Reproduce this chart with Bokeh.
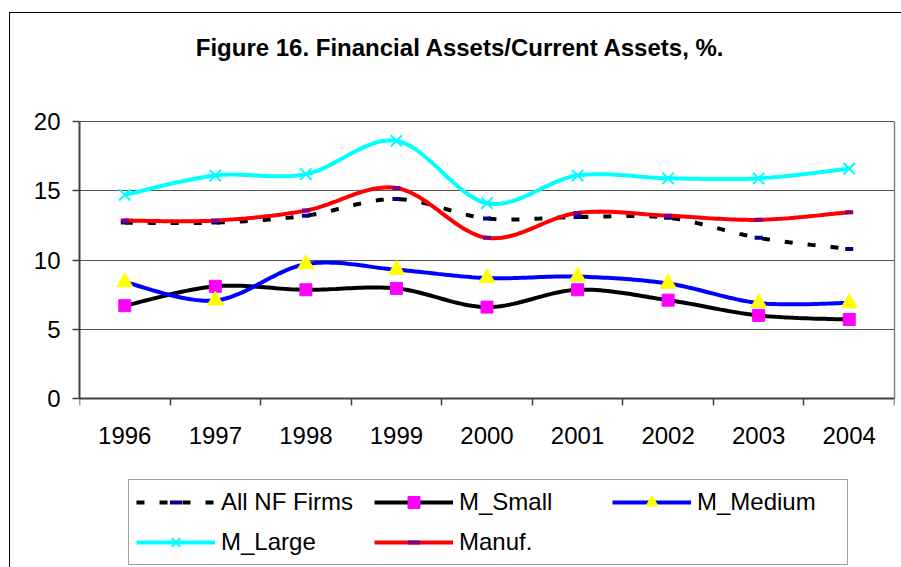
import numpy as np
from bokeh.plotting import figure
from bokeh.models import Range1d, FixedTicker, Legend, LegendItem, Label, InlineStyleSheet, LinearAxis
from bokeh.embed import file_html
from bokeh.resources import INLINE

# ---- data ----
years = [1996, 1997, 1998, 1999, 2000, 2001, 2002, 2003, 2004]
all_nf = [12.7, 12.7, 13.2, 14.4, 13.0, 13.1, 13.05, 11.6, 10.8]
m_small = [6.7, 8.1, 7.85, 7.95, 6.6, 7.85, 7.1, 6.0, 5.7]
m_medium = [8.4, 7.08, 9.7, 9.3, 8.7, 8.8, 8.3, 6.9, 6.9]
m_large = [14.7, 16.1, 16.2, 18.6, 14.1, 16.1, 15.9, 15.9, 16.6]
manuf = [12.85, 12.85, 13.57, 15.2, 11.6, 13.4, 13.2, 12.9, 13.45]
y_ticks = [0, 5, 10, 15, 20]
title_text = "Figure 16. Financial Assets/Current Assets, %."

FONT = "Liberation Sans"

# ---- layout (pixels) ----
W, H = 901, 567
AREA_LEFT, AREA_RIGHT, AREA_TOP, AREA_BOTTOM = 79, 894, 121, 398

y_lo, y_hi = y_ticks[0], y_ticks[-1]
ppu_y = (AREA_BOTTOM - AREA_TOP) / (y_hi - y_lo)
x_lo, x_hi = years[0] - 0.5, years[-1] + 0.5
range_y0 = y_lo - (H - AREA_BOTTOM) / ppu_y
range_y1 = y_hi + AREA_TOP / ppu_y


def smooth(xs, ys, n=24):
    """Excel-like smoothed line (cubic Bezier, Catmull-Rom control points)."""
    P = np.column_stack([np.asarray(xs, float), np.asarray(ys, float)])
    ext = np.vstack([P[0], P, P[-1]])
    out = []
    m = len(P) - 1
    for i in range(m):
        p0, p1, p2, p3 = ext[i], ext[i + 1], ext[i + 2], ext[i + 3]
        c1 = p1 + (p2 - p0) / 6.0
        c2 = p2 - (p3 - p1) / 6.0
        t = np.linspace(0, 1, n, endpoint=(i == m - 1))[:, None]
        seg = ((1 - t) ** 3) * p1 + 3 * ((1 - t) ** 2) * t * c1 + 3 * (1 - t) * t ** 2 * c2 + t ** 3 * p2
        out.append(seg)
    out = np.vstack(out)
    return out[:, 0], out[:, 1]


border_css = InlineStyleSheet(css="""
:host { position: relative; }
:host::after {
  content: ''; position: absolute; left: 9px; top: 12px; right: 0px; bottom: 0px;
  border-left: 1.5px solid black; border-top: 1.5px solid black;
  pointer-events: none; box-sizing: border-box;
}
""")

p = figure(width=W, height=H, output_backend="svg", toolbar_location=None,
           x_range=Range1d(x_lo, x_hi), y_range=Range1d(range_y0, range_y1),
           min_border_left=AREA_LEFT, min_border_right=W - AREA_RIGHT,
           min_border_top=0, min_border_bottom=0,
           background_fill_color="white", border_fill_color="white",
           stylesheets=[border_css])
p.outline_line_color = None

# horizontal grid lines at the y ticks
p.xgrid.visible = False
p.ygrid.ticker = FixedTicker(ticks=y_ticks)
p.ygrid.grid_line_color = "#555555"
p.ygrid.grid_line_width = 1

# x axis (fixed at y = 0)
bounds = [y - 0.5 for y in years] + [years[-1] + 0.5]
p.xaxis.fixed_location = y_lo
p.xaxis.bounds = (x_lo, x_hi)
p.xaxis.ticker = FixedTicker(ticks=years, minor_ticks=bounds)
p.xaxis.major_tick_out = 0
p.xaxis.major_tick_in = 0
p.xaxis.minor_tick_out = 7
p.xaxis.minor_tick_in = 0
p.xaxis.minor_tick_line_color = "#404040"
p.xaxis.minor_tick_line_width = 1.5
p.xaxis.axis_line_color = "#404040"
p.xaxis.axis_line_width = 2
p.xaxis.major_label_text_font = FONT
p.xaxis.major_label_text_font_size = "24px"
p.xaxis.major_label_text_color = "black"
p.xaxis.major_label_standoff = 21

# y axis
p.yaxis.bounds = (y_lo, y_hi)
p.yaxis.ticker = FixedTicker(ticks=y_ticks, minor_ticks=[])
p.yaxis.major_tick_out = 7
p.yaxis.major_tick_in = 0
p.yaxis.major_tick_line_color = "#404040"
p.yaxis.major_tick_line_width = 1.5
p.yaxis.minor_tick_line_color = None
p.yaxis.axis_line_color = "#404040"
p.yaxis.axis_line_width = 2
p.yaxis.major_label_text_font = FONT
p.yaxis.major_label_text_font_size = "24px"
p.yaxis.major_label_text_color = "black"
p.yaxis.major_label_standoff = 12

# right edge of the plot area (plain axis line, no ticks)
right_axis = LinearAxis(bounds=(y_lo, y_hi), ticker=FixedTicker(ticks=[], minor_ticks=[]),
                        major_tick_line_color=None, minor_tick_line_color=None,
                        major_label_standoff=0, major_label_text_font_size="0px",
                        axis_line_color="#808080", axis_line_width=1.5)
p.add_layout(right_axis, "right")

LW = 4
# series
sx, sy = smooth(years, all_nf)
l1 = p.line(sx, sy, line_color="black", line_width=LW, line_dash="8 15")
s1 = p.scatter(years, all_nf, marker="dash", size=8, line_color="#000080", line_width=4)

sx, sy = smooth(years, m_small)
l2 = p.line(sx, sy, line_color="black", line_width=LW)
s2 = p.scatter(years, m_small, marker="square", size=12, fill_color="#FF00FF", line_color="#FF00FF")

sx, sy = smooth(years, m_medium)
l3 = p.line(sx, sy, line_color="#0000FF", line_width=LW)
s3 = p.scatter(years, m_medium, marker="triangle", size=16, fill_color="#FFFF00", line_color="#FFFF00")

sx, sy = smooth(years, m_large)
l4 = p.line(sx, sy, line_color="#00FFFF", line_width=LW)
s4 = p.scatter(years, m_large, marker="x", size=16, line_color="#00FFFF", line_width=2)

sx, sy = smooth(years, manuf)
l5 = p.line(sx, sy, line_color="#FF0000", line_width=LW)
s5 = p.scatter(years, manuf, marker="dash", size=8, line_color="#800080", line_width=4)

legend = Legend(items=[
    LegendItem(label="All NF Firms", renderers=[l1, s1]),
    LegendItem(label="M_Small", renderers=[l2, s2]),
    LegendItem(label="M_Medium", renderers=[l3, s3]),
    LegendItem(label="M_Large", renderers=[l4, s4]),
    LegendItem(label="Manuf.", renderers=[l5, s5]),
], ncols=3, orientation="horizontal", location=(128 - AREA_LEFT, H - 565))
legend.glyph_width = 79
legend.glyph_height = 30
legend.label_height = 30
legend.label_width = 143
legend.label_standoff = 6
legend.spacing = 10
legend.padding = 7
legend.margin = 0
legend.border_line_color = "#404040"
legend.border_line_width = 1.5
legend.background_fill_color = "white"
legend.background_fill_alpha = 1
legend.label_text_font = FONT
legend.label_text_font_size = "24px"
legend.label_text_color = "black"
p.add_layout(legend, "center")

p.add_layout(Label(x=460 - AREA_LEFT, y=H - 47, x_units="screen", y_units="screen", text=title_text,
                   text_font=FONT, text_font_size="24px", text_font_style="bold",
                   text_align="center", text_baseline="middle", text_color="black"))

open("out.html", "w").write(file_html(p, INLINE))
